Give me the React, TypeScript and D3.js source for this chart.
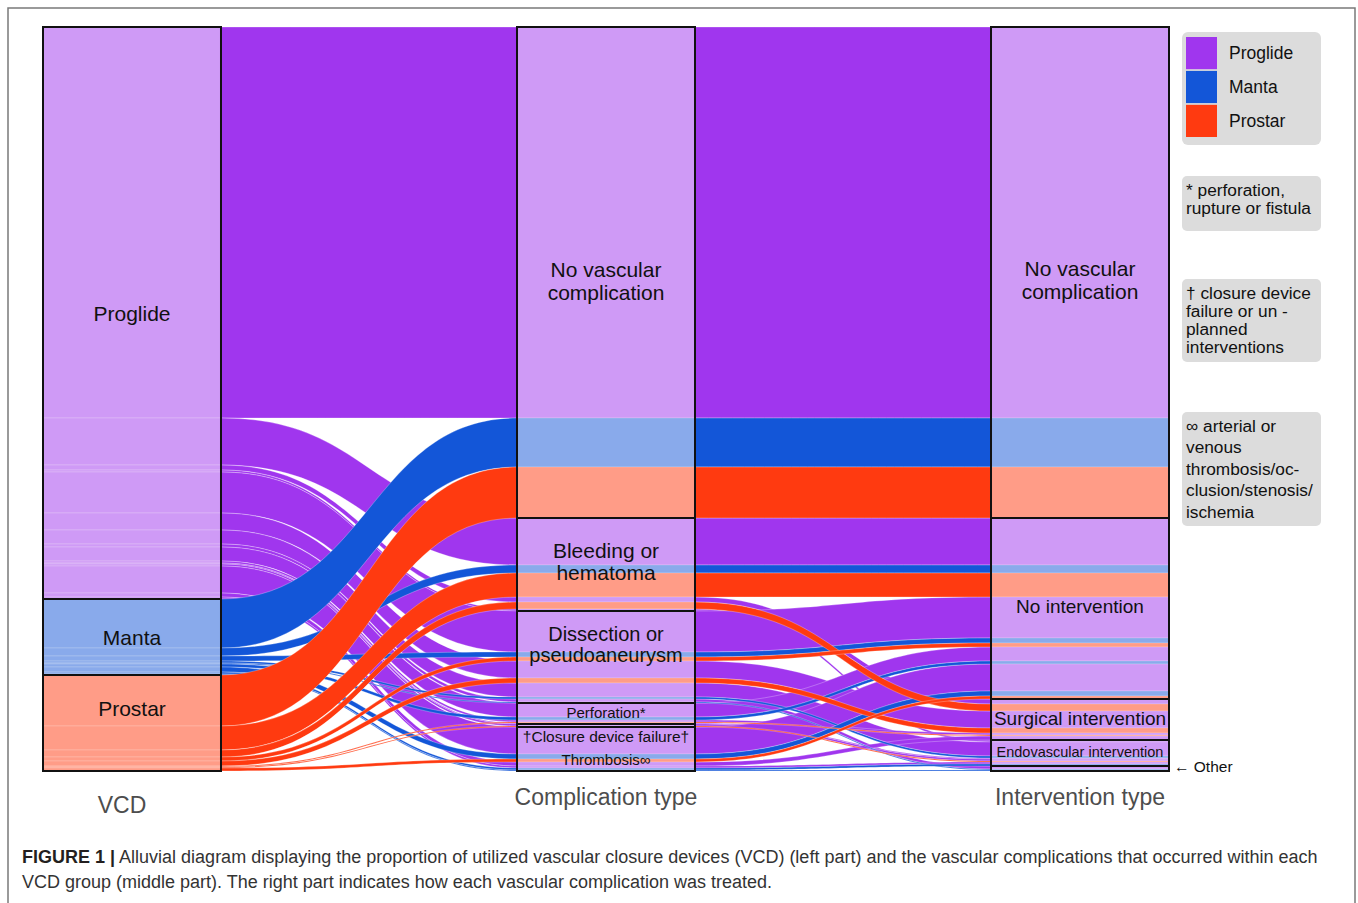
import React from 'react';
import * as d3 from 'd3';

// strata (top to bottom on each axis)
const devices = ['Proglide', 'Manta', 'Prostar'];
const deviceColors = ['#A036EE', '#1356D8', '#FF3A10'];

const complicationKeys = ['none', 'bleeding', 'dissection', 'perforation', 'closure', 'thrombosis'];
const complicationLabels = [
  ['No vascular', 'complication'],
  ['Bleeding or', 'hematoma'],
  ['Dissection or', 'pseudoaneurysm'],
  ['Perforation*'],
  ['†Closure device failure†'],
  ['Thrombosis∞'],
];
const interventionKeys = ['none', 'noint', 'surgical', 'endo', 'other'];
const interventionLabels = [
  ['No vascular', 'complication'],
  ['No intervention'],
  ['Surgical intervention'],
  ['Endovascular intervention'],
  [],
];
const axisTitles = ['VCD', 'Complication type', 'Intervention type'];

// patients without vascular complication, per device
const noComplication = [391, 49, 51];

// [device, complication, intervention, patients]
const complicationFlows: [string, string, string, number][] = [
  ['Proglide', 'bleeding', 'noint', 47],
  ['Manta', 'bleeding', 'noint', 8],
  ['Prostar', 'bleeding', 'noint', 24],
  ['Proglide', 'bleeding', 'surgical', 5],
  ['Prostar', 'bleeding', 'surgical', 7],
  ['Proglide', 'bleeding', 'endo', 2],
  ['Proglide', 'dissection', 'noint', 41],
  ['Manta', 'dissection', 'noint', 5],
  ['Prostar', 'dissection', 'noint', 4],
  ['Proglide', 'dissection', 'surgical', 17],
  ['Prostar', 'dissection', 'surgical', 5],
  ['Proglide', 'dissection', 'endo', 14],
  ['Manta', 'dissection', 'endo', 2],
  ['Proglide', 'dissection', 'other', 3],
  ['Manta', 'dissection', 'other', 1],
  ['Proglide', 'perforation', 'noint', 14],
  ['Manta', 'perforation', 'noint', 3],
  ['Proglide', 'perforation', 'surgical', 2],
  ['Prostar', 'perforation', 'surgical', 1],
  ['Proglide', 'perforation', 'endo', 1],
  ['Proglide', 'closure', 'endo', 2],
  ['Prostar', 'closure', 'endo', 1],
  ['Proglide', 'thrombosis', 'noint', 27],
  ['Manta', 'thrombosis', 'noint', 5],
  ['Prostar', 'thrombosis', 'noint', 3],
  ['Proglide', 'thrombosis', 'surgical', 4],
  ['Proglide', 'thrombosis', 'endo', 2],
  ['Manta', 'thrombosis', 'endo', 2],
  ['Manta', 'thrombosis', 'other', 1],
];

const footnotes = [
  ['* perforation,', 'rupture or fistula'],
  ['† closure device', 'failure or un -', 'planned', 'interventions'],
  ['∞ arterial or', 'venous', 'thrombosis/oc-', 'clusion/stenosis/', 'ischemia'],
];

type Flow = { device: number; comp: number; int: number; n: number };

const flows: Flow[] = [
  ...noComplication.map((n, i) => ({ device: i, comp: 0, int: 0, n })),
  ...complicationFlows.map(([d, c, k, n]) => ({
    device: devices.indexOf(d),
    comp: complicationKeys.indexOf(c),
    int: interventionKeys.indexOf(k),
    n,
  })),
];

const FONT = '"Liberation Sans", Arial, Helvetica, sans-serif';

function ribbon(x0: number, x1: number, a0: number, a1: number, b0: number, b1: number) {
  const xm = (x0 + x1) / 2;
  const p = d3.path();
  p.moveTo(x0, a0);
  p.bezierCurveTo(xm, a0, xm, b0, x1, b0);
  p.lineTo(x1, b1);
  p.bezierCurveTo(xm, b1, xm, a1, x0, a1);
  p.closePath();
  return p.toString();
}

export default function App() {
  const total = d3.sum(flows, (f) => f.n);
  const y = d3.scaleLinear().domain([0, total]).range([27, 771]);
  const x = d3.scaleBand<string>().domain(axisTitles).range([43, 1169]).paddingInner(0.6245).paddingOuter(0);
  const bw = x.bandwidth();

  // order of lodes inside the strata of each axis
  const orderKeys = [
    (f: Flow) => [f.device, f.comp, f.int],
    (f: Flow) => [f.comp, f.int, f.device],
    (f: Flow) => [f.int, f.comp, f.device],
  ];
  const stratumOf = [(f: Flow) => f.device, (f: Flow) => f.comp, (f: Flow) => f.int];
  const stratumCount = [devices.length, complicationKeys.length, interventionKeys.length];

  const pos = orderKeys.map((key) => {
    const sorted = flows.slice().sort((a, b) => {
      const ka = key(a), kb = key(b);
      for (let i = 0; i < ka.length; i++) if (ka[i] !== kb[i]) return ka[i] - kb[i];
      return 0;
    });
    const m = new Map<Flow, [number, number]>();
    let acc = 0;
    sorted.forEach((f) => {
      m.set(f, [acc, acc + f.n]);
      acc += f.n;
    });
    return m;
  });

  const strata = stratumOf.map((get, ai) => {
    const out: [number, number][] = [];
    let acc = 0;
    for (let s = 0; s < stratumCount[ai]; s++) {
      const n = d3.sum(flows.filter((f) => get(f) === s), (f) => f.n);
      out.push([acc, acc + n]);
      acc += n;
    }
    return out;
  });

  const labels = [devices.map((d) => [d]), complicationLabels, interventionLabels];
  const labelSize = [
    [21, 21, 21],
    [21, 21, 20, 15, 15.5, 15],
    [21, 19, 19, 14.5, 14],
  ];
  const labelNudge = [
    [0, 0, -15],
    [8.5, -3, -13, -1.5, 10.5, 10],
    [7.5, -2.5, -1.5, -1, 0],
  ];

  const drawOrder = flows.slice().sort((a, b) => a.device - b.device);

  const legendY = d3.scaleBand<string>().domain(devices).range([37, 137]).paddingInner(0.05);
  const noteTops = [176, 279, 412];
  const noteHeights = [55, 83, 114];
  const noteLeading = [18, 18, 21.5];

  return (
    <svg width={1358} height={903} style={{ position: 'absolute', left: 0, top: 0, background: '#fff' }} fontFamily={FONT}>
      <path d="M8,903V8H1355V903" fill="none" stroke="#7a7a7a" strokeWidth={1.5} />

      {/* ribbons between axes */}
      {drawOrder.map((f, i) =>
        [0, 1].map((ai) => {
          const [a0, a1] = pos[ai].get(f)!;
          const [b0, b1] = pos[ai + 1].get(f)!;
          return (
            <path
              key={`r${i}-${ai}`}
              d={ribbon(x(axisTitles[ai])! + bw, x(axisTitles[ai + 1])!, y(a0), y(a1), y(b0), y(b1))}
              fill={deviceColors[f.device]}
              stroke="#fff"
              strokeWidth={0.35}
              strokeOpacity={0.8}
            />
          );
        })
      )}

      {/* lodes inside the strata */}
      {flows.map((f, i) =>
        axisTitles.map((t, ai) => {
          const [a0, a1] = pos[ai].get(f)!;
          return (
            <rect
              key={`l${i}-${ai}`}
              x={x(t)}
              y={y(a0)}
              width={bw}
              height={y(a1) - y(a0)}
              fill={deviceColors[f.device]}
              fillOpacity={0.5}
              stroke="#fff"
              strokeWidth={0.3}
              strokeOpacity={0.6}
            />
          );
        })
      )}

      {/* strata boxes and labels */}
      {strata.map((ss, ai) =>
        ss.map(([s0, s1], si) => {
          const cx = x(axisTitles[ai])! + bw / 2;
          const cy = (y(s0) + y(s1)) / 2 + labelNudge[ai][si];
          const lines = labels[ai][si];
          const size = labelSize[ai][si];
          const lead = size * 1.05;
          return (
            <g key={`s${ai}-${si}`}>
              <rect x={x(axisTitles[ai])} y={y(s0)} width={bw} height={y(s1) - y(s0)} fill="none" stroke="#111" strokeWidth={2} />
              {lines.map((ln, li) => (
                <text
                  key={li}
                  x={cx}
                  y={cy + (li - (lines.length - 1) / 2) * lead}
                  textAnchor="middle"
                  dominantBaseline="central"
                  fontSize={size}
                  fill="#111"
                >
                  {ln}
                </text>
              ))}
            </g>
          );
        })
      )}

      {/* "Other" pointer */}
      <text
        x={x(axisTitles[2])! + bw + 5}
        y={(y(strata[2][4][0]) + y(strata[2][4][1])) / 2 - 2}
        dominantBaseline="central"
        fontSize={15.5}
        fill="#111"
      >
        ← Other
      </text>

      {/* axis titles */}
      {axisTitles.map((t, i) => (
        <text
          key={t}
          x={x(t)! + bw / 2 - (i === 0 ? 10 : 0)}
          y={i === 0 ? 805 : 797}
          textAnchor="middle"
          dominantBaseline="central"
          fontSize={23}
          fill="#4d4d4d"
        >
          {t}
        </text>
      ))}

      {/* legend */}
      <rect x={1182} y={32} width={139} height={113} rx={6} fill="#dcdcdc" />
      {devices.map((d, i) => (
        <g key={d}>
          <rect x={1186} y={legendY(d)} width={31} height={legendY.bandwidth()} fill={deviceColors[i]} />
          <text x={1229} y={legendY(d)! + legendY.bandwidth() / 2} dominantBaseline="central" fontSize={17.5} fill="#111">
            {d}
          </text>
        </g>
      ))}

      {footnotes.map((lines, i) => (
        <g key={`n${i}`}>
          <rect x={1182} y={noteTops[i]} width={139} height={noteHeights[i]} rx={5} fill="#dcdcdc" />
          {lines.map((ln, li) => (
            <text
              key={li}
              x={1186}
              y={noteTops[i] + 13.5 + li * noteLeading[i]}
              dominantBaseline="central"
              fontSize={17.3}
              fill="#111"
            >
              {ln}
            </text>
          ))}
        </g>
      ))}

      {/* caption */}
      <text x={22} y={857} dominantBaseline="central" fontSize={18} fill="#333">
        <tspan fontWeight="bold" fill="#231f20">FIGURE 1 |</tspan>
        {' Alluvial diagram displaying the proportion of utilized vascular closure devices (VCD) (left part) and the vascular complications that occurred within each'}
      </text>
      <text x={22} y={882} dominantBaseline="central" fontSize={18} fill="#333">
        VCD group (middle part). The right part indicates how each vascular complication was treated.
      </text>
    </svg>
  );
}
